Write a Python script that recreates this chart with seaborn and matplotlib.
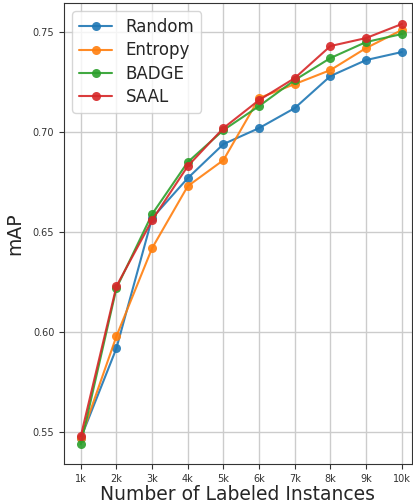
import matplotlib
matplotlib.use("Agg")
import matplotlib.pyplot as plt
import seaborn as sns
import pandas as pd

# mAP after each labeling round (1k .. 10k labeled instances)
budgets = [1, 2, 3, 4, 5, 6, 7, 8, 9, 10]
tick_labels = ["1k", "2k", "3k", "4k", "5k", "6k", "7k", "8k", "9k", "10k"]
random_map = [0.547, 0.592, 0.657, 0.677, 0.694, 0.702, 0.712, 0.728, 0.736, 0.740]
entropy_map = [0.547, 0.598, 0.642, 0.673, 0.686, 0.717, 0.724, 0.731, 0.742, 0.751]
badge_map = [0.544, 0.622, 0.659, 0.685, 0.701, 0.713, 0.726, 0.737, 0.745, 0.749]
saal_map = [0.548, 0.623, 0.656, 0.683, 0.702, 0.716, 0.727, 0.743, 0.747, 0.754]
methods = ["Random", "Entropy", "BADGE", "SAAL"]

rows = []
for name, vals in zip(methods, [random_map, entropy_map, badge_map, saal_map]):
    for b, v in zip(budgets, vals):
        rows.append({"budget": b, "mAP": v, "method": name})
df = pd.DataFrame(rows)

sns.set_style("white")
fig = plt.figure(figsize=(4.13, 5.03), dpi=100)
ax = fig.add_axes([0.155, 0.077, 0.842, 0.917])

sns.lineplot(data=df, x="budget", y="mAP", hue="method", hue_order=methods,
             palette=["#1f77b4", "#ff7f0e", "#2ca02c", "#d62728"],
             marker="o", markersize=6.5, markeredgewidth=0, linewidth=1.5,
             alpha=0.9, ax=ax)

ax.set_xticks(budgets)
ax.set_xticklabels(tick_labels)
ax.set_yticks([0.55, 0.60, 0.65, 0.70, 0.75])
ax.set_yticklabels(["0.55", "0.60", "0.65", "0.70", "0.75"])
ax.set_xlim(0.53, 10.28)
ax.set_ylim(0.534, 0.7645)
ax.tick_params(axis="both", labelsize=7, length=3.5, width=0.8, colors="#333333",
               direction="out", left=True, bottom=True)
ax.grid(True, color="#cccccc", linewidth=1.0)
for s in ax.spines.values():
    s.set_color("#333333")
    s.set_linewidth(0.8)

ax.set_xlabel("Number of Labeled Instances", fontsize=13.5, labelpad=1)
ax.set_ylabel("mAP", fontsize=13.5, labelpad=6)

leg = ax.legend(loc="upper left", fontsize=12, frameon=True, handlelength=2,
                labelspacing=0.32, borderaxespad=0.5)
leg.set_title(None)

fig.savefig("out.png", dpi=100)
